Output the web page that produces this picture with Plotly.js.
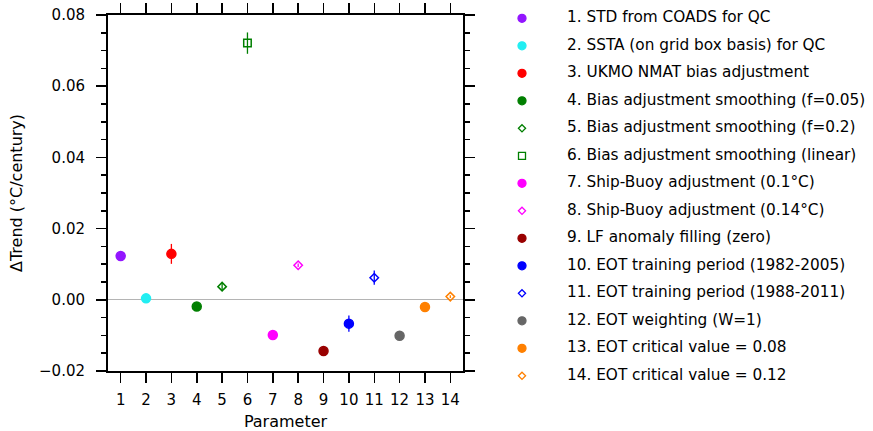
<!DOCTYPE html>
<html>
<head>
<meta charset="utf-8">
<script src="https://cdn.plot.ly/plotly-3.0.1.min.js"></script>
<style>html,body{margin:0;padding:0;background:#fff;}#chart{width:873px;height:431px;}</style>
</head>
<body>
<div id="chart"></div>
<script>
// ---- data ----
const params = [1, 2, 3, 4, 5, 6, 7, 8, 9, 10, 11, 12, 13, 14];
const labels = [
  "1. STD from COADS for QC",
  "2. SSTA (on grid box basis) for QC",
  "3. UKMO NMAT bias adjustment",
  "4. Bias adjustment smoothing (f=0.05)",
  "5. Bias adjustment smoothing (f=0.2)",
  "6. Bias adjustment smoothing (linear)",
  "7. Ship-Buoy adjustment (0.1°C)",
  "8. Ship-Buoy adjustment (0.14°C)",
  "9. LF anomaly filling (zero)",
  "10. EOT training period (1982-2005)",
  "11. EOT training period (1988-2011)",
  "12. EOT weighting (W=1)",
  "13. EOT critical value = 0.08",
  "14. EOT critical value = 0.12"
];
const trendDiff = [0.0123, 0.0004, 0.0129, -0.0019, 0.0037, 0.0721, -0.0099, 0.0097, -0.0144, -0.0067, 0.0062, -0.0101, -0.0020, 0.0009];
const trendErr  = [0, 0, 0.0028, 0, 0.0010, 0.0030, 0, 0.0005, 0, 0.0023, 0.0020, 0, 0, 0.0004];
const colors = ["#9316ff", "#22eef2", "#ff0000", "#007f00", "#007f00", "#007f00", "#ff00ff", "#ff00ff", "#990000", "#0000ff", "#0000ff", "#666666", "#ff8000", "#ff8000"];
const symbols = ["circle", "circle", "circle", "circle", "diamond-open", "square-open", "circle", "diamond-open", "circle", "circle", "diamond-open", "circle", "circle", "diamond-open"];
const yTicks = [-0.02, 0.00, 0.02, 0.04, 0.06, 0.08];

// ---- style ----
const FONT = "DejaVu Sans, Arial, sans-serif";
function markerSize(sym, legend) {
  if (sym === "diamond-open") return legend ? 5.5 : 6.5;
  if (sym === "square-open") return legend ? 7 : 7.5;
  return legend ? 8 : 9;
}

const traces = [];
params.forEach((p, i) => {
  traces.push({
    type: "scatter", mode: "markers",
    x: [p], y: [trendDiff[i]],
    xaxis: "x", yaxis: "y",
    cliponaxis: false,
    error_y: { type: "data", array: [trendErr[i]], visible: trendErr[i] > 0, color: colors[i], thickness: 1.3, width: 0 },
    marker: { symbol: symbols[i], color: colors[i], opacity: 1, size: markerSize(symbols[i], false), line: { color: colors[i], width: 1.5 } },
    showlegend: false, hoverinfo: "skip"
  });
});

// legend drawn on its own hidden axes
const LEG_MARK_X = 12, LEG_TEXT_X = 57;
traces.push({
  type: "scatter", mode: "markers",
  x: params.map(() => LEG_MARK_X), y: params,
  xaxis: "x2", yaxis: "y2", cliponaxis: false,
  marker: {
    symbol: symbols, color: colors, opacity: 1,
    size: symbols.map(s => markerSize(s, true)),
    line: { color: colors, width: 1.3 }
  },
  showlegend: false, hoverinfo: "skip"
});
traces.push({
  type: "scatter", mode: "text",
  x: params.map(() => LEG_TEXT_X), y: params,
  text: labels, textposition: "middle right",
  textfont: { family: FONT, size: 15.3, color: "#000" },
  xaxis: "x2", yaxis: "y2", cliponaxis: false,
  showlegend: false, hoverinfo: "skip"
});

const layout = {
  width: 873, height: 431,
  margin: { l: 108, r: 10, t: 5, b: 50, pad: 0 },
  paper_bgcolor: "#fff", plot_bgcolor: "rgba(0,0,0,0)",
  showlegend: false,
  font: { family: FONT, size: 15, color: "#000" },
  xaxis: {
    domain: [0, 0.4702], anchor: "y",
    range: [0.5, 14.5],
    tickmode: "array", tickvals: params, ticktext: params.map(String),
    ticks: "outside", ticklen: 10, tickwidth: 1.5, tickcolor: "#000",
    ticklabelstandoff: 4,
    showline: true, linewidth: 2, linecolor: "#000", mirror: "ticks",
    showgrid: false, zeroline: false,
    tickfont: { family: FONT, size: 15 },
    title: { text: "Parameter", font: { family: FONT, size: 16 }, standoff: 10 },
    automargin: false
  },
  yaxis: {
    domain: [0.0266, 0.9734], anchor: "x",
    range: [-0.02, 0.08],
    tickmode: "array", tickvals: yTicks, tickformat: ".2f",
    ticks: "outside", ticklen: 10, tickwidth: 1.5, tickcolor: "#000",
    ticklabelstandoff: 8,
    minor: { dtick: 0.005, tick0: 0, ticks: "outside", ticklen: 5, tickwidth: 1.5, tickcolor: "#000", showgrid: false },
    showline: true, linewidth: 2, linecolor: "#000", mirror: "ticks",
    showgrid: false,
    zeroline: true, zerolinecolor: "#b4b4b4", zerolinewidth: 1,
    tickfont: { family: FONT, size: 15 },
    title: { text: "ΔTrend (°C/century)", font: { family: FONT, size: 16 }, standoff: 12 },
    automargin: false
  },
  xaxis2: { domain: [0.53245, 1], anchor: "y2", range: [0, 353], visible: false, fixedrange: true },
  yaxis2: { domain: [0, 1], anchor: "x2", range: [14.189, 0.516], visible: false, fixedrange: true }
};

Plotly.newPlot("chart", traces, layout, { staticPlot: true, displayModeBar: false });
</script>
</body>
</html>
